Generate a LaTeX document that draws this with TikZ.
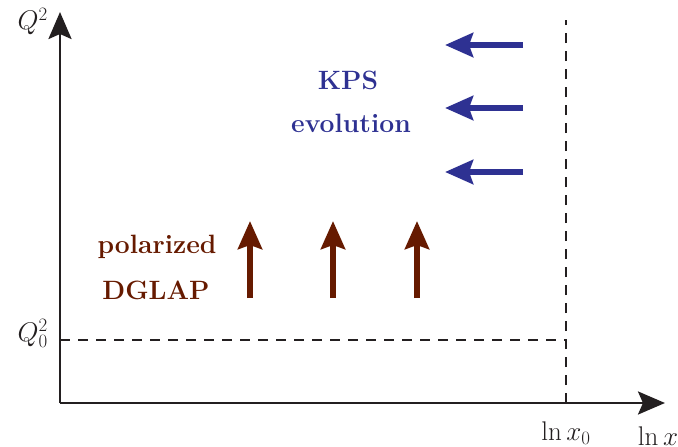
\RequirePackage{fix-cm}
\documentclass[tikz,border=0pt]{standalone}
\usetikzlibrary{arrows.meta}
\definecolor{kpsblue}{RGB}{46,49,146}
\definecolor{dglapred}{RGB}{102,26,0}
\definecolor{axisblack}{RGB}{35,31,32}
\begin{document}
\begin{tikzpicture}[x=1pt,y=-1pt,
  big/.style={font=\fontsize{27}{32}\selectfont},
  axis/.style={axisblack,line width=2.8pt,-{Stealth[length=27pt,width=23pt,inset=5pt]}},
  guide/.style={axisblack,line width=1.2pt,dash pattern=on 10pt off 8pt},
  evo/.style={line width=6.5pt,-{Stealth[length=28pt,width=24pt,inset=4pt]}},
  lbl/.style={font=\fontsize{26.5}{32}\selectfont\bfseries,anchor=base,inner sep=0pt}]
\useasboundingbox (0,0) rectangle (678,447);
% axes
\coordinate (O) at (60,403);
\coordinate (ytip) at (60,12);
\coordinate (xtip) at (665,403);
\coordinate (q0l) at (60,340);
\coordinate (q0r) at (566,340);
\coordinate (x0b) at (566,403);
\coordinate (x0t) at (566,20);
\draw[guide] (q0l) -- (q0r);
\draw[guide] (x0b) -- (x0t);
\draw[axis] (O) -- (ytip);
\draw[axis] (O) -- (xtip);
% axis labels
\node[big,anchor=base east,inner sep=0pt,text=axisblack] (lq) at (48,30) {$Q^2$};
\node[big,anchor=base east,inner sep=0pt,text=axisblack] (lq0) at (48,341) {$Q_0^2$};
\node[big,anchor=base,inner sep=0pt,text=axisblack] (lx0) at (566,440) {$\ln x_0$};
\node[big,anchor=base,inner sep=0pt,text=axisblack] (lx) at (658,445) {$\ln x$};
% KPS arrows
\foreach \i/\y in {1/45,2/108,3/172}{
  \coordinate (ks\i) at (523,\y);
  \coordinate (ke\i) at (445,\y);
  \draw[evo,kpsblue] (ks\i) -- (ke\i);
}
% DGLAP arrows
\foreach \i/\x in {1/250,2/333,3/417}{
  \coordinate (ds\i) at (\x,298);
  \coordinate (de\i) at (\x,221);
  \draw[evo,dglapred] (ds\i) -- (de\i);
}
% texts
\node[lbl,text=kpsblue] (kps) at (348,89) {KPS};
\node[lbl,text=kpsblue] (evol) at (351,132) {evolution};
\node[lbl,text=dglapred] (pol) at (157,253) {polarized};
\node[lbl,text=dglapred] (dglap) at (156,299) {DGLAP};
\end{tikzpicture}
\end{document}
